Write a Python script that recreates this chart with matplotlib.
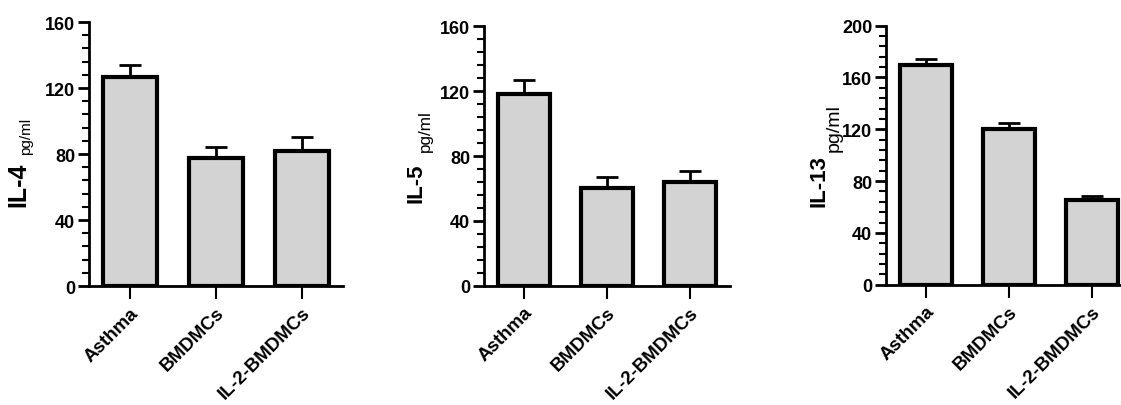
import numpy as np
import matplotlib
matplotlib.use("Agg")
import matplotlib.pyplot as plt
from matplotlib.ticker import MultipleLocator

plt.rcParams['font.family'] = ['Liberation Sans', 'DejaVu Sans']

groups = ["Asthma", "BMDMCs", "IL-2-BMDMCs"]
il4 = [127, 77.5, 82]
il4_err = [7, 6.5, 8.5]
il5 = [118, 60, 64]
il5_err = [9, 7, 6.5]
il13 = [170, 120, 65.5]
il13_err = [4.5, 5, 3.2]

# name, values, errors, ymax, axes rect, (label x, y, size), (unit x, y, size)
panels = [
    ("IL-4", il4, il4_err, 160, [0.0794, 0.2931, 0.2266, 0.650], (18, 207, 18), (26, 155, 11)),
    ("IL-5", il5, il5_err, 160, [0.4318, 0.2938, 0.2194, 0.639], (416, 203, 16), (425, 152, 12.3)),
    ("IL-13", il13, il13_err, 200, [0.7904, 0.2963, 0.2194, 0.638], (819, 207, 16), (834, 152, 14)),
]

W, H = 1121, 406
fig = plt.figure(figsize=(W / 100, H / 100), dpi=100)

for name, vals, errs, ymax, pos, lab, unit in panels:
    ax = fig.add_axes(pos)
    x = np.arange(len(groups))
    ax.errorbar(x, vals, yerr=[np.zeros(len(errs)), errs], fmt='none',
                ecolor='black', elinewidth=2, capsize=8, capthick=2, zorder=1)
    ax.bar(x, vals, width=0.63, color='#d3d3d3', edgecolor='black',
           linewidth=3, zorder=2)
    ax.set_xlim(-0.48, 2.48)
    ax.set_ylim(0, ymax)
    ax.yaxis.set_major_locator(MultipleLocator(40))
    ax.yaxis.set_minor_locator(MultipleLocator(8))
    ax.spines['top'].set_visible(False)
    ax.spines['right'].set_visible(False)
    ax.spines['left'].set_linewidth(2)
    ax.spines['bottom'].set_linewidth(2)
    ax.tick_params(axis='y', which='major', length=8, width=2, labelsize=13, pad=2)
    ax.tick_params(axis='y', which='minor', length=5, width=1.5)
    ax.tick_params(axis='x', which='major', length=9, width=1.5, pad=4)
    for t in ax.get_yticklabels():
        t.set_fontweight('bold')
    ax.set_xticks(x)
    ax.set_xticklabels(groups, rotation=45, ha='right', rotation_mode='anchor',
                       fontsize=13.5, fontweight='bold')
    fig.text(lab[0] / W, 1 - lab[1] / H, name, rotation=90, ha='center',
             va='bottom', fontsize=lab[2], fontweight='bold')
    fig.text(unit[0] / W, 1 - unit[1] / H, "pg/ml", rotation=90,
             ha='center', va='bottom', fontsize=unit[2])

fig.savefig("out.png", dpi=100)
